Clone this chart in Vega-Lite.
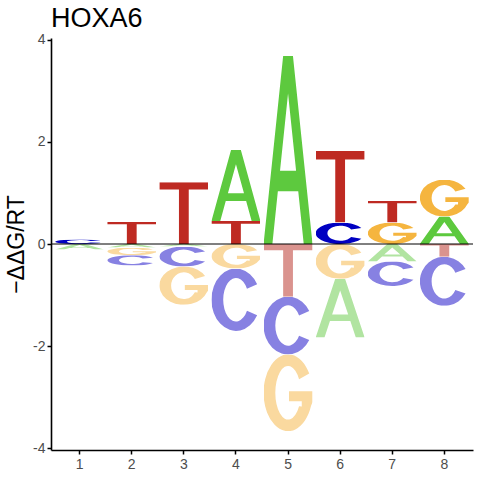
{
  "$schema": "https://vega.github.io/schema/vega-lite/v6.json",
  "width": 422,
  "height": 412,
  "autosize": {"type": "none"},
  "padding": {"left": 51, "top": 38, "right": 7, "bottom": 30},
  "background": "white",
  "title": {
    "text": "HOXA6",
    "anchor": "start",
    "frame": "group",
    "font": "Liberation Sans",
    "fontSize": 27,
    "fontWeight": "normal",
    "color": "black",
    "baseline": "alphabetic",
    "offset": -21
  },
  "layer": [
    {
      "data": {
        "values": [
          {"pos": 1, "letter": "C", "value": 0.09},
          {"pos": 1, "letter": "A", "value": -0.11},
          {"pos": 2, "letter": "T", "value": 0.44},
          {"pos": 2, "letter": "A", "value": -0.07},
          {"pos": 2, "letter": "G", "value": -0.15},
          {"pos": 2, "letter": "C", "value": -0.2},
          {"pos": 3, "letter": "T", "value": 1.21},
          {"pos": 3, "letter": "A", "value": -0.05},
          {"pos": 3, "letter": "C", "value": -0.39},
          {"pos": 3, "letter": "G", "value": -0.75},
          {"pos": 4, "letter": "T", "value": 0.45},
          {"pos": 4, "letter": "A", "value": 1.39},
          {"pos": 4, "letter": "G", "value": -0.48},
          {"pos": 4, "letter": "C", "value": -1.22},
          {"pos": 5, "letter": "A", "value": 3.68},
          {"pos": 5, "letter": "T", "value": -1.03},
          {"pos": 5, "letter": "C", "value": -1.13},
          {"pos": 5, "letter": "G", "value": -1.5},
          {"pos": 6, "letter": "C", "value": 0.42},
          {"pos": 6, "letter": "T", "value": 1.4},
          {"pos": 6, "letter": "G", "value": -0.68},
          {"pos": 6, "letter": "A", "value": -1.15},
          {"pos": 7, "letter": "G", "value": 0.42},
          {"pos": 7, "letter": "T", "value": 0.43},
          {"pos": 7, "letter": "A", "value": -0.34},
          {"pos": 7, "letter": "C", "value": -0.48},
          {"pos": 8, "letter": "A", "value": 0.54},
          {"pos": 8, "letter": "G", "value": 0.72},
          {"pos": 8, "letter": "T", "value": -0.25},
          {"pos": 8, "letter": "C", "value": -0.96}
        ]
      },
      "transform": [
        {"calculate": "abs(datum.value)", "as": "mag"},
        {"stack": "value", "groupby": ["pos"], "sort": [{"field": "mag", "order": "ascending"}], "offset": "zero", "as": ["y0", "y1"]}
      ],
      "encoding": {
        "x": {
          "field": "pos",
          "type": "ordinal",
          "scale": {"paddingInner": 0.06, "paddingOuter": 0.08},
          "axis": {
            "title": null,
            "labelAngle": 0,
            "labelFont": "Liberation Sans",
            "labelFontSize": 14,
            "labelColor": "#4d4d4d",
            "labelPadding": 3,
            "tickSize": 4,
            "tickWidth": 1.5,
            "tickColor": "black",
            "domainColor": "black",
            "domainWidth": 1.6
          }
        },
        "y": {
          "field": "y1",
          "type": "quantitative",
          "scale": {"domain": [-4.03, 4.03], "nice": false},
          "axis": {
            "title": "−ΔΔG/RT",
            "titleFont": "Liberation Sans",
            "titleFontSize": 23,
            "titleFontWeight": "normal",
            "titleColor": "black",
            "titlePadding": 4,
            "values": [-4, -2, 0, 2, 4],
            "labelExpr": "'' + datum.value",
            "labelFont": "Liberation Sans",
            "labelFontSize": 14,
            "labelColor": "#4d4d4d",
            "labelPadding": 2,
            "tickSize": 4,
            "tickWidth": 1.5,
            "tickColor": "black",
            "domainColor": "black",
            "domainWidth": 1.6,
            "grid": false
          }
        },
        "y2": {"field": "y0"}
      },
      "layer": [
        {
          "transform": [{"filter": "datum.letter == 'T' && datum.value > 0"}],
          "mark": {"type": "image", "aspect": false, "url": "data:image/svg+xml,%3Csvg xmlns='http://www.w3.org/2000/svg' viewBox='0 0 100 100' preserveAspectRatio='none'%3E%3Cpath fill='%23be2a22' d='M0 0H100V12H60V100H40V12H0Z'/%3E%3C/svg%3E"}
        },
        {
          "transform": [{"filter": "datum.letter == 'T' && datum.value < 0"}],
          "mark": {"type": "image", "aspect": false, "url": "data:image/svg+xml,%3Csvg xmlns='http://www.w3.org/2000/svg' viewBox='0 0 100 100' preserveAspectRatio='none'%3E%3Cpath fill='%23da938e' d='M0 0H100V12H60V100H40V12H0Z'/%3E%3C/svg%3E"}
        },
        {
          "transform": [{"filter": "datum.letter == 'A' && datum.value > 0"}],
          "mark": {"type": "image", "aspect": false, "url": "data:image/svg+xml,%3Csvg xmlns='http://www.w3.org/2000/svg' viewBox='0 0 100 100' preserveAspectRatio='none'%3E%3Cpath fill='%235dc93e' fill-rule='evenodd' d='M0 100L40 0H60L100 100H82L70.8 72H29.2L18 100ZM33.6 61H66.4L50 20Z'/%3E%3C/svg%3E"}
        },
        {
          "transform": [{"filter": "datum.letter == 'A' && datum.value < 0"}],
          "mark": {"type": "image", "aspect": false, "url": "data:image/svg+xml,%3Csvg xmlns='http://www.w3.org/2000/svg' viewBox='0 0 100 100' preserveAspectRatio='none'%3E%3Cpath fill='%23b1e4a1' fill-rule='evenodd' d='M0 100L40 0H60L100 100H82L70.8 72H29.2L18 100ZM33.6 61H66.4L50 20Z'/%3E%3C/svg%3E"}
        },
        {
          "transform": [{"filter": "datum.letter == 'C' && datum.value > 0"}],
          "mark": {"type": "image", "aspect": false, "url": "data:image/svg+xml,%3Csvg xmlns='http://www.w3.org/2000/svg' viewBox='0 0 100 100' preserveAspectRatio='none'%3E%3Cpath fill='%230000c2' d='M93.3 25A50 50 0 1 0 93.3 75L72.5 67.5A26 35 0 1 1 72.5 32.5Z'/%3E%3C/svg%3E"}
        },
        {
          "transform": [{"filter": "datum.letter == 'C' && datum.value < 0"}],
          "mark": {"type": "image", "aspect": false, "url": "data:image/svg+xml,%3Csvg xmlns='http://www.w3.org/2000/svg' viewBox='0 0 100 100' preserveAspectRatio='none'%3E%3Cpath fill='%238781e2' d='M93.3 25A50 50 0 1 0 93.3 75L72.5 67.5A26 35 0 1 1 72.5 32.5Z'/%3E%3C/svg%3E"}
        },
        {
          "transform": [{"filter": "datum.letter == 'G' && datum.value > 0"}],
          "mark": {"type": "image", "aspect": false, "url": "data:image/svg+xml,%3Csvg xmlns='http://www.w3.org/2000/svg' viewBox='0 0 100 100' preserveAspectRatio='none'%3E%3Cpath fill='%23f5b53f' d='M93.3 25A50 50 0 1 0 97 67.1L100 62V48H52V61H78V68L72.5 67.5A26 35 0 1 1 72.5 32.5Z'/%3E%3C/svg%3E"}
        },
        {
          "transform": [{"filter": "datum.letter == 'G' && datum.value < 0"}],
          "mark": {"type": "image", "aspect": false, "url": "data:image/svg+xml,%3Csvg xmlns='http://www.w3.org/2000/svg' viewBox='0 0 100 100' preserveAspectRatio='none'%3E%3Cpath fill='%23fad99f' d='M93.3 25A50 50 0 1 0 97 67.1L100 62V48H52V61H78V68L72.5 67.5A26 35 0 1 1 72.5 32.5Z'/%3E%3C/svg%3E"}
        }
      ]
    },
    {
      "data": {"values": [{"zero": 0}]},
      "mark": {"type": "rule", "color": "black", "strokeWidth": 1},
      "encoding": {"y": {"field": "zero", "type": "quantitative"}}
    }
  ],
  "config": {
    "view": {"stroke": null}
  }
}
